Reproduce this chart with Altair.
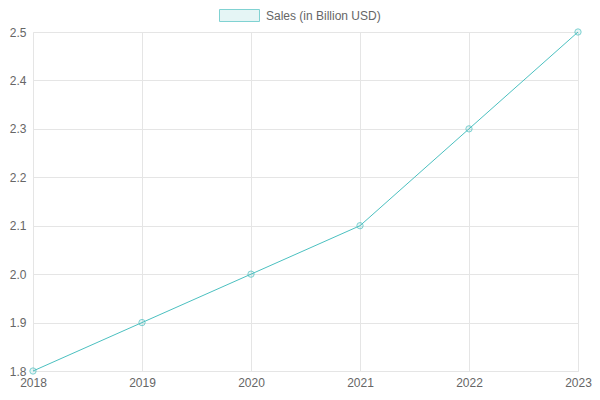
import altair as alt
import pandas as pd

years = [2018, 2019, 2020, 2021, 2022, 2023]
sales = [1.8, 1.9, 2.0, 2.1, 2.3, 2.5]
series_name = "Sales (in Billion USD)"
y_ticks = [1.8, 1.9, 2.0, 2.1, 2.2, 2.3, 2.4, 2.5]

df = pd.DataFrame({"year": years, "sales": sales, "series": [series_name] * len(years)})

TEAL = "#4bc0c0"
FILL = "rgba(75,192,192,0.2)"
GRID = "#e5e5e5"
FONT = "Liberation Sans"

x_enc = alt.X("year:Q", scale=alt.Scale(domain=[2018, 2023], nice=False, zero=False),
              axis=alt.Axis(values=years, format="d", title=None, grid=True, gridColor=GRID,
                            domainColor=GRID, ticks=False, labelPadding=6, labelFontSize=12,
                            labelColor="#666", labelFont=FONT, labelFlush=False))
y_enc = alt.Y("sales:Q", scale=alt.Scale(domain=[1.8, 2.5], nice=False, zero=False),
              axis=alt.Axis(values=y_ticks, format=".1f", title=None, grid=True, gridColor=GRID,
                            domainColor=GRID, ticks=False, labelPadding=7, labelFontSize=12,
                            labelColor="#666", labelFont=FONT, labelFlush=False))

line = alt.Chart(df).mark_line(color=TEAL, strokeWidth=1).encode(x=x_enc, y=y_enc)

points = alt.Chart(df).mark_point(shape="circle", filled=False, fill=FILL, size=40, strokeWidth=1).encode(
    x=x_enc, y=y_enc,
    stroke=alt.Stroke("series:N", scale=alt.Scale(range=[TEAL]),
                      legend=alt.Legend(title=None, orient="none", legendX=186, legendY=-37,
                                        symbolType="M-1,-0.3H1V0.3H-1Z", symbolSize=1600,
                                        symbolFillColor=FILL, symbolStrokeColor=TEAL,
                                        symbolStrokeWidth=1, labelFontSize=12, labelColor="#666",
                                        labelFont=FONT, labelOffset=6, padding=0)),
)

chart = alt.layer(line, points).properties(
    width=545, height=339,
    autosize=alt.AutoSizeParams(type="none"),
    padding={"left": 25, "top": 24, "right": 14, "bottom": 21},
).configure_view(stroke=None)

chart.save("out.html", embed_options={"renderer": "svg", "actions": False})
